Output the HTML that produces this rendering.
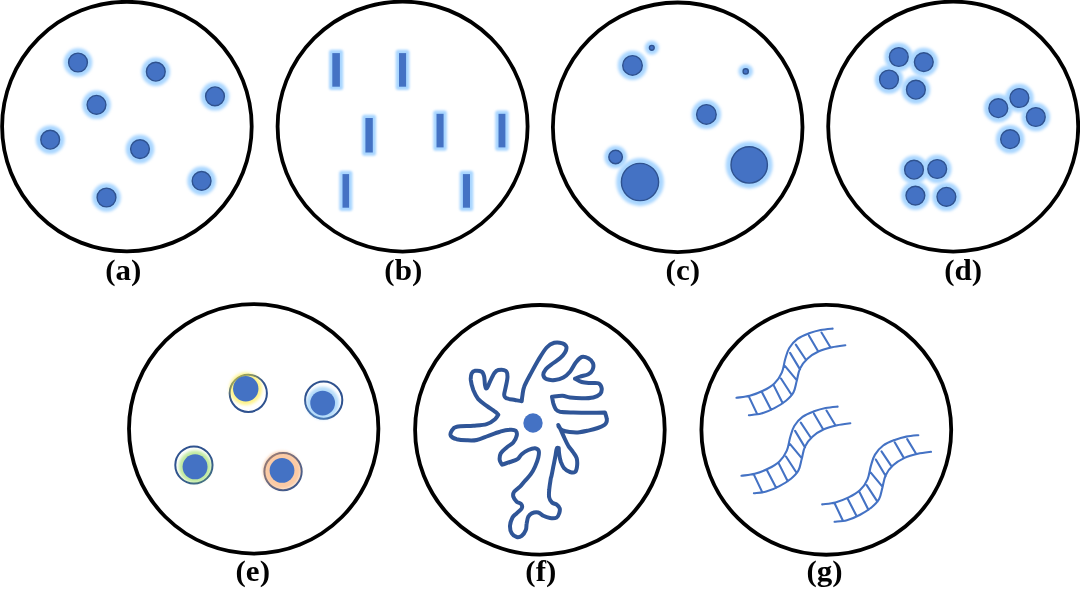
<!DOCTYPE html>
<html><head><meta charset="utf-8"><title>Figure</title>
<style>
html,body{margin:0;padding:0;background:#fff;}
body{width:1080px;height:607px;overflow:hidden;}
svg{display:block;}
text{opacity:0.99;font-family:"Liberation Serif",serif;font-weight:bold;font-size:30px;fill:#000;}
</style></head><body>
<svg width="1080" height="607" viewBox="0 0 1080 607">
<defs>
<filter id="gl" x="-50%" y="-50%" width="200%" height="200%"><feGaussianBlur stdDeviation="1.5"/></filter>
<filter id="gb" x="-100%" y="-50%" width="300%" height="200%"><feGaussianBlur stdDeviation="1.0"/></filter>
</defs>
<rect width="1080" height="607" fill="#fff"/>
<circle cx="126.9" cy="126.6" r="124.8" fill="#fff" stroke="#000" stroke-width="3.8"/>
<circle cx="402.6" cy="126.6" r="125" fill="#fff" stroke="#000" stroke-width="3.8"/>
<circle cx="677.7" cy="127.3" r="124.8" fill="#fff" stroke="#000" stroke-width="3.8"/>
<circle cx="953.2" cy="126.6" r="125" fill="#fff" stroke="#000" stroke-width="3.8"/>
<circle cx="253.7" cy="428.85" r="124.7" fill="#fff" stroke="#000" stroke-width="3.8"/>
<circle cx="539.9" cy="429.8" r="124.8" fill="#fff" stroke="#000" stroke-width="3.8"/>
<circle cx="826.3" cy="429.85" r="124.9" fill="#fff" stroke="#000" stroke-width="3.8"/>
<circle cx="78" cy="62.5" r="14.29" fill="#a9d6ff" filter="url(#gl)"/>
<circle cx="155.8" cy="71.7" r="14.29" fill="#a9d6ff" filter="url(#gl)"/>
<circle cx="215" cy="96.3" r="14.29" fill="#a9d6ff" filter="url(#gl)"/>
<circle cx="96.5" cy="104.8" r="14.29" fill="#a9d6ff" filter="url(#gl)"/>
<circle cx="50.2" cy="139.7" r="14.29" fill="#a9d6ff" filter="url(#gl)"/>
<circle cx="140" cy="149.1" r="14.29" fill="#a9d6ff" filter="url(#gl)"/>
<circle cx="201.6" cy="180.9" r="14.29" fill="#a9d6ff" filter="url(#gl)"/>
<circle cx="106.5" cy="197.5" r="14.29" fill="#a9d6ff" filter="url(#gl)"/>
<circle cx="632.5" cy="65.4" r="14.69" fill="#a9d6ff" filter="url(#gl)"/>
<circle cx="651.8" cy="47.8" r="7.06" fill="#a9d6ff" filter="url(#gl)"/>
<circle cx="745.7" cy="71.4" r="7.26" fill="#a9d6ff" filter="url(#gl)"/>
<circle cx="706.4" cy="114.4" r="14.69" fill="#a9d6ff" filter="url(#gl)"/>
<circle cx="615.6" cy="157" r="11.30" fill="#a9d6ff" filter="url(#gl)"/>
<circle cx="640" cy="182" r="23.88" fill="#a9d6ff" filter="url(#gl)"/>
<circle cx="749.2" cy="164.9" r="23.48" fill="#a9d6ff" filter="url(#gl)"/>
<circle cx="898.8" cy="57" r="14.29" fill="#a9d6ff" filter="url(#gl)"/>
<circle cx="923.8" cy="62.1" r="14.29" fill="#a9d6ff" filter="url(#gl)"/>
<circle cx="889" cy="79.5" r="14.29" fill="#a9d6ff" filter="url(#gl)"/>
<circle cx="915.9" cy="89.7" r="14.29" fill="#a9d6ff" filter="url(#gl)"/>
<circle cx="1019.4" cy="98" r="14.29" fill="#a9d6ff" filter="url(#gl)"/>
<circle cx="998.3" cy="108.2" r="14.29" fill="#a9d6ff" filter="url(#gl)"/>
<circle cx="1035.8" cy="117" r="14.29" fill="#a9d6ff" filter="url(#gl)"/>
<circle cx="1010.1" cy="139.2" r="14.29" fill="#a9d6ff" filter="url(#gl)"/>
<circle cx="914" cy="169.7" r="14.29" fill="#a9d6ff" filter="url(#gl)"/>
<circle cx="937.2" cy="169" r="14.29" fill="#a9d6ff" filter="url(#gl)"/>
<circle cx="915.4" cy="195.6" r="14.29" fill="#a9d6ff" filter="url(#gl)"/>
<circle cx="946.4" cy="196.8" r="14.29" fill="#a9d6ff" filter="url(#gl)"/>
<circle cx="78" cy="62.5" r="9.40" fill="#4472C4" stroke="#2F528F" stroke-width="1.4"/>
<circle cx="155.8" cy="71.7" r="9.40" fill="#4472C4" stroke="#2F528F" stroke-width="1.4"/>
<circle cx="215" cy="96.3" r="9.40" fill="#4472C4" stroke="#2F528F" stroke-width="1.4"/>
<circle cx="96.5" cy="104.8" r="9.40" fill="#4472C4" stroke="#2F528F" stroke-width="1.4"/>
<circle cx="50.2" cy="139.7" r="9.40" fill="#4472C4" stroke="#2F528F" stroke-width="1.4"/>
<circle cx="140" cy="149.1" r="9.40" fill="#4472C4" stroke="#2F528F" stroke-width="1.4"/>
<circle cx="201.6" cy="180.9" r="9.40" fill="#4472C4" stroke="#2F528F" stroke-width="1.4"/>
<circle cx="106.5" cy="197.5" r="9.40" fill="#4472C4" stroke="#2F528F" stroke-width="1.4"/>
<rect x="329.0" y="49.8" width="14.2" height="40.2" rx="2.5" fill="#a9d6ff" filter="url(#gb)"/><rect x="332.3" y="53.1" width="7.6" height="33.6" fill="#4472C4"/>
<rect x="395.7" y="49.8" width="13.7" height="40.2" rx="2.5" fill="#a9d6ff" filter="url(#gb)"/><rect x="399.0" y="53.1" width="7.1" height="33.6" fill="#4472C4"/>
<rect x="362.1" y="114.7" width="14.0" height="41.1" rx="2.5" fill="#a9d6ff" filter="url(#gb)"/><rect x="365.4" y="118.0" width="7.4" height="34.5" fill="#4472C4"/>
<rect x="433.2" y="110.5" width="13.7" height="40.2" rx="2.5" fill="#a9d6ff" filter="url(#gb)"/><rect x="436.5" y="113.8" width="7.1" height="33.6" fill="#4472C4"/>
<rect x="495.2" y="110.5" width="13.5" height="40.2" rx="2.5" fill="#a9d6ff" filter="url(#gb)"/><rect x="498.5" y="113.8" width="6.9" height="33.6" fill="#4472C4"/>
<rect x="339.2" y="170.8" width="13.2" height="40.2" rx="2.5" fill="#a9d6ff" filter="url(#gb)"/><rect x="342.5" y="174.1" width="6.6" height="33.6" fill="#4472C4"/>
<rect x="459.6" y="170.8" width="13.7" height="40.2" rx="2.5" fill="#a9d6ff" filter="url(#gb)"/><rect x="462.9" y="174.1" width="7.1" height="33.6" fill="#4472C4"/>
<circle cx="632.5" cy="65.4" r="9.80" fill="#4472C4" stroke="#2F528F" stroke-width="1.4"/>
<circle cx="651.8" cy="47.8" r="2.40" fill="#4472C4" stroke="#2F528F" stroke-width="1.4"/>
<circle cx="745.7" cy="71.4" r="2.60" fill="#4472C4" stroke="#2F528F" stroke-width="1.4"/>
<circle cx="706.4" cy="114.4" r="9.80" fill="#4472C4" stroke="#2F528F" stroke-width="1.4"/>
<circle cx="615.6" cy="157" r="6.80" fill="#4472C4" stroke="#2F528F" stroke-width="1.4"/>
<circle cx="640" cy="182" r="18.60" fill="#4472C4" stroke="#2F528F" stroke-width="1.4"/>
<circle cx="749.2" cy="164.9" r="18.20" fill="#4472C4" stroke="#2F528F" stroke-width="1.4"/>
<circle cx="898.8" cy="57" r="9.40" fill="#4472C4" stroke="#2F528F" stroke-width="1.4"/>
<circle cx="923.8" cy="62.1" r="9.40" fill="#4472C4" stroke="#2F528F" stroke-width="1.4"/>
<circle cx="889" cy="79.5" r="9.40" fill="#4472C4" stroke="#2F528F" stroke-width="1.4"/>
<circle cx="915.9" cy="89.7" r="9.40" fill="#4472C4" stroke="#2F528F" stroke-width="1.4"/>
<circle cx="1019.4" cy="98" r="9.40" fill="#4472C4" stroke="#2F528F" stroke-width="1.4"/>
<circle cx="998.3" cy="108.2" r="9.40" fill="#4472C4" stroke="#2F528F" stroke-width="1.4"/>
<circle cx="1035.8" cy="117" r="9.40" fill="#4472C4" stroke="#2F528F" stroke-width="1.4"/>
<circle cx="1010.1" cy="139.2" r="9.40" fill="#4472C4" stroke="#2F528F" stroke-width="1.4"/>
<circle cx="914" cy="169.7" r="9.40" fill="#4472C4" stroke="#2F528F" stroke-width="1.4"/>
<circle cx="937.2" cy="169" r="9.40" fill="#4472C4" stroke="#2F528F" stroke-width="1.4"/>
<circle cx="915.4" cy="195.6" r="9.40" fill="#4472C4" stroke="#2F528F" stroke-width="1.4"/>
<circle cx="946.4" cy="196.8" r="9.40" fill="#4472C4" stroke="#2F528F" stroke-width="1.4"/>
<circle cx="248.3" cy="393.3" r="18.6" fill="#fff" stroke="#2F528F" stroke-width="2"/>
<circle cx="245.75" cy="388.8" r="16.3" fill="rgb(255,235,46)" opacity="0.55" filter="url(#gl)"/>
<circle cx="245.75" cy="388.8" r="12.7" fill="#4472C4"/>
<circle cx="323.7" cy="400.1" r="18.6" fill="#fff" stroke="#2F528F" stroke-width="2"/>
<circle cx="322.65" cy="403.05" r="16.3" fill="rgb(120,190,246)" opacity="0.55" filter="url(#gl)"/>
<circle cx="322.65" cy="403.05" r="12.4" fill="#4472C4"/>
<circle cx="193.9" cy="465.0" r="18.6" fill="#fff" stroke="#2F528F" stroke-width="2"/>
<circle cx="195.05" cy="466.8" r="16.3" fill="rgb(140,217,82)" opacity="0.55" filter="url(#gl)"/>
<circle cx="195.05" cy="466.8" r="12.5" fill="#4472C4"/>
<circle cx="283.05" cy="471.6" r="18.6" fill="#fff" stroke="#2F528F" stroke-width="2"/>
<circle cx="282.0" cy="470.4" r="19.0" fill="rgb(248,160,91)" opacity="0.55" filter="url(#gl)"/>
<circle cx="282.0" cy="470.4" r="12.4" fill="#4472C4"/>
<path d="M558.3 425.0C558.8 425.8 559.9 427.9 560.8 430.0C561.8 432.1 562.9 434.9 564.2 437.5C565.4 440.1 566.8 443.3 568.3 445.8C569.9 448.3 571.9 450.4 573.3 452.5C574.7 454.6 576.1 456.0 576.7 458.3C577.3 460.7 577.3 464.4 577.0 466.7C576.7 468.9 576.2 471.1 575.0 472.0C573.8 472.9 571.8 472.6 570.0 472.0C568.2 471.4 565.7 470.1 564.2 468.3C562.6 466.6 561.7 464.0 560.8 461.7C560.0 459.3 559.5 456.4 559.2 454.2C558.8 451.9 558.8 449.2 558.7 448.0C558.3 448.1 557.2 447.2 556.7 448.7C556.1 450.1 555.9 453.7 555.3 456.7C554.8 459.7 554.0 463.3 553.3 466.7C552.7 470.0 551.8 474.7 551.3 476.7C550.9 478.6 551.2 476.1 550.8 478.3C550.5 480.6 549.4 486.8 549.2 490.0C548.9 493.2 548.7 495.4 549.2 497.5C549.6 499.6 550.8 501.3 552.0 502.5C553.2 503.7 555.4 503.7 556.7 504.7C557.9 505.6 559.2 506.9 559.7 508.3C560.1 509.8 559.7 511.8 559.2 513.3C558.7 514.9 558.2 516.7 556.7 517.5C555.1 518.3 552.2 518.3 550.0 518.0C547.8 517.7 545.3 516.8 543.3 515.8C541.4 514.9 540.3 512.9 538.3 512.5C536.4 512.1 533.3 512.6 531.7 513.3C530.0 514.0 529.2 515.0 528.3 516.7C527.5 518.3 527.1 521.1 526.7 523.3C526.2 525.6 526.7 527.9 525.8 530.0C525.0 532.1 523.2 534.7 521.7 535.8C520.1 537.0 518.3 537.4 516.7 537.0C515.0 536.6 512.8 535.2 511.7 533.3C510.6 531.5 509.9 528.5 510.0 525.8C510.1 523.2 511.4 519.6 512.5 517.5C513.6 515.4 515.1 514.9 516.7 513.3C518.2 511.8 520.9 509.9 521.7 508.3C522.4 506.8 522.2 505.3 521.3 504.2C520.5 503.1 518.0 502.9 516.7 501.7C515.3 500.4 513.8 498.3 513.3 496.7C512.9 495.0 513.1 493.3 514.2 491.7C515.3 490.0 518.2 488.5 520.0 486.7C521.8 484.9 523.2 482.9 525.0 480.8C526.8 478.8 529.2 476.5 530.8 474.2C532.5 471.8 533.8 469.4 535.0 466.7C536.2 463.9 537.7 460.1 538.3 457.5C538.9 454.9 539.2 452.4 538.7 450.8C538.1 449.3 536.7 448.5 535.0 448.3C533.3 448.2 530.6 449.0 528.3 450.0C526.1 451.0 523.5 452.6 521.7 454.2C519.9 455.7 519.4 457.9 517.5 459.2C515.6 460.5 512.6 461.1 510.0 462.0C507.4 462.9 503.6 464.1 502.0 464.7C501.5 463.7 499.9 461.9 499.7 460.0C499.5 458.1 499.7 455.4 500.8 453.3C502.0 451.2 504.6 449.3 506.7 447.5C508.8 445.7 511.7 444.4 513.3 442.5C515.0 440.6 516.2 437.8 516.7 435.8C517.1 433.9 516.9 431.9 515.8 430.8C514.7 429.8 512.6 429.5 510.0 429.7C507.4 429.8 503.6 430.6 500.0 431.7C496.4 432.7 492.2 434.4 488.3 435.8C484.4 437.2 480.3 439.2 476.7 440.0C473.1 440.8 470.0 440.5 466.7 440.3C463.3 440.2 459.3 439.9 456.7 439.2C454.0 438.4 451.7 437.2 450.8 435.8C450.0 434.4 450.7 432.4 451.7 430.8C452.6 429.3 453.1 427.5 456.7 426.7C460.3 425.8 468.3 426.2 473.3 425.8C478.3 425.4 483.1 425.3 486.7 424.2C490.3 423.1 493.1 420.8 495.0 419.2C496.9 417.6 497.7 415.6 498.3 414.7C497.7 414.1 496.9 413.1 495.0 411.7C493.1 410.2 489.4 407.9 486.7 405.8C483.9 403.8 480.6 401.8 478.3 399.2C476.1 396.5 474.6 393.2 473.3 390.0C472.1 386.8 471.1 382.8 470.8 380.0C470.6 377.2 471.0 374.9 471.7 373.3C472.4 371.8 473.3 371.1 475.0 370.8C476.7 370.6 480.1 370.7 481.7 371.7C483.2 372.6 483.6 374.4 484.2 376.7C484.7 378.9 484.6 383.1 485.0 385.0C485.4 386.9 485.8 388.9 486.7 388.3C487.5 387.8 488.8 384.2 490.0 381.7C491.2 379.2 492.8 375.3 494.2 373.3C495.6 371.4 496.4 370.4 498.3 370.0C500.3 369.6 504.3 369.7 505.8 370.8C507.4 371.9 507.5 374.0 507.5 376.7C507.5 379.3 506.4 383.6 505.8 386.7C505.3 389.7 504.0 393.1 504.2 395.0C504.3 396.9 504.9 397.5 506.7 398.3C508.5 399.2 512.5 399.5 515.0 400.0C517.5 400.5 520.3 401.1 521.7 401.3C521.8 400.1 522.1 397.4 522.5 395.0C522.9 392.6 522.9 390.0 524.2 386.7C525.4 383.3 527.6 379.4 530.0 375.0C532.4 370.6 535.6 364.6 538.3 360.0C541.1 355.4 544.0 350.4 546.7 347.5C549.3 344.6 551.5 343.5 554.2 342.8C556.8 342.1 560.5 342.7 562.5 343.3C564.5 344.0 565.9 345.1 566.3 346.7C566.8 348.2 566.1 350.6 565.0 352.5C563.9 354.4 562.2 356.4 560.0 358.3C557.8 360.3 554.0 362.4 551.7 364.2C549.3 366.0 547.2 367.4 545.8 369.2C544.4 371.0 543.2 373.3 543.3 375.0C543.5 376.7 544.7 378.3 546.7 379.2C548.6 380.0 552.2 380.3 555.0 380.0C557.8 379.7 560.8 378.9 563.3 377.5C565.8 376.1 567.9 374.2 570.0 371.7C572.1 369.2 573.9 364.9 575.8 362.5C577.8 360.1 579.6 357.7 581.7 357.0C583.8 356.3 586.4 357.3 588.3 358.3C590.2 359.4 592.3 361.4 593.0 363.3C593.7 365.3 593.3 368.2 592.5 370.0C591.7 371.8 590.4 373.1 588.3 374.2C586.2 375.3 582.2 375.9 580.0 376.7C577.8 377.4 576.0 378.3 575.0 378.7C576.3 379.3 579.2 381.3 581.7 382.0C584.2 382.7 587.2 382.8 590.0 383.0C592.8 383.2 596.4 382.4 598.3 383.3C600.3 384.2 601.4 386.5 601.7 388.3C601.9 390.1 601.4 392.6 600.0 394.2C598.6 395.7 596.4 396.8 593.3 397.5C590.3 398.2 585.6 398.3 581.7 398.3C577.8 398.3 573.2 397.9 570.0 397.5C566.8 397.1 565.5 396.0 562.5 395.8C559.5 395.7 554.1 396.5 552.0 396.7C552.3 398.0 552.7 401.2 553.3 403.3C554.0 405.4 554.7 407.8 555.8 409.2C556.9 410.6 557.1 411.1 560.0 411.7C562.9 412.2 568.3 412.3 573.3 412.5C578.3 412.7 584.7 412.8 590.0 412.8C595.3 412.8 602.0 412.6 605.0 412.5C605.3 413.7 606.5 416.8 606.7 418.4C607.0 420.0 606.9 420.9 606.5 422.0C606.1 423.1 606.0 423.8 604.5 424.8C603.0 425.8 600.5 427.0 597.8 428.0C595.1 429.0 591.5 429.9 588.2 430.6C584.9 431.3 580.9 432.2 577.8 432.4C574.7 432.6 572.2 432.3 569.7 432.0C567.2 431.7 564.4 431.3 562.5 430.4C560.6 429.5 559.2 427.1 558.6 426.4" fill="none" stroke="#2F5597" stroke-width="4" stroke-linecap="round" stroke-linejoin="round"/>
<circle cx="533" cy="423" r="9.7" fill="#4472C4"/>
<path d="M736.5 397.8C738.7 397.4 745.3 396.9 749.7 395.8C754.1 394.6 758.8 392.9 762.9 390.8C767.0 388.8 771.3 386.4 774.4 383.4C777.6 380.4 780.1 376.7 781.8 372.7C783.6 368.7 783.9 363.7 785.1 359.5C786.4 355.4 787.2 351.4 789.3 348.0C791.3 344.6 794.2 341.4 797.5 338.9C800.8 336.5 805.2 334.8 809.0 333.3C812.9 331.9 816.6 330.8 820.6 330.0C824.5 329.3 830.6 328.8 832.6 328.6M748.9 415.2C750.9 414.9 757.0 414.8 761.2 413.6C765.5 412.4 770.3 410.3 774.4 408.1C778.5 406.0 782.8 403.3 786.0 400.7C789.1 398.1 791.6 395.8 793.4 392.5C795.2 389.2 795.6 384.9 796.7 381.0C797.8 377.0 798.2 372.3 800.0 368.6C801.7 364.9 804.2 361.6 807.4 358.7C810.5 355.8 814.8 353.2 818.9 351.3C823.0 349.4 827.7 348.2 832.1 347.2C836.5 346.2 843.1 345.5 845.3 345.2M748.9 396.6L757.1 413.9M762.1 392.5L771.1 409.8M773.6 385.1L782.7 403.2M781.0 378.5L791.7 395.0M785.1 366.1L796.7 380.1M790.1 352.9L800.0 369.4M795.8 344.7L805.7 359.5M809.0 335.7L818.1 351.3M821.5 332.5L830.4 347.2" fill="none" stroke="#4472C4" stroke-width="2.1" stroke-linecap="round" stroke-linejoin="round"/>
<path d="M741.5 475.8C743.7 475.4 750.3 474.9 754.7 473.8C759.1 472.6 763.8 470.9 767.9 468.8C772.0 466.8 776.3 464.4 779.4 461.4C782.6 458.4 785.1 454.7 786.8 450.7C788.6 446.7 788.9 441.7 790.1 437.5C791.4 433.4 792.2 429.4 794.3 426.0C796.3 422.6 799.2 419.4 802.5 416.9C805.8 414.5 810.2 412.8 814.0 411.3C817.9 409.9 821.6 408.8 825.6 408.0C829.5 407.3 835.6 406.8 837.6 406.6M753.9 493.2C755.9 492.9 762.0 492.8 766.2 491.6C770.5 490.4 775.3 488.3 779.4 486.1C783.5 484.0 787.8 481.3 791.0 478.7C794.1 476.1 796.6 473.8 798.4 470.5C800.2 467.2 800.6 462.9 801.7 459.0C802.8 455.0 803.2 450.3 805.0 446.6C806.7 442.9 809.2 439.6 812.4 436.7C815.5 433.8 819.8 431.2 823.9 429.3C828.0 427.4 832.7 426.2 837.1 425.2C841.5 424.2 848.1 423.5 850.3 423.2M753.9 474.6L762.1 491.9M767.1 470.5L776.1 487.8M778.6 463.1L787.7 481.2M786.0 456.5L796.7 473.0M790.1 444.1L801.7 458.1M795.1 430.9L805.0 447.4M800.8 422.7L810.7 437.5M814.0 413.7L823.1 429.3M826.5 410.5L835.4 425.2" fill="none" stroke="#4472C4" stroke-width="2.1" stroke-linecap="round" stroke-linejoin="round"/>
<path d="M822.2 504.4C824.4 504.0 831.0 503.5 835.4 502.4C839.8 501.2 844.5 499.5 848.6 497.4C852.7 495.4 857.0 493.0 860.1 490.0C863.3 487.0 865.8 483.3 867.5 479.3C869.3 475.3 869.6 470.3 870.8 466.1C872.1 462.0 872.9 458.0 875.0 454.6C877.0 451.2 879.9 448.0 883.2 445.5C886.5 443.1 890.9 441.4 894.7 439.9C898.6 438.5 902.3 437.4 906.3 436.6C910.2 435.9 916.3 435.4 918.3 435.2M834.6 521.8C836.6 521.5 842.7 521.4 846.9 520.2C851.2 519.0 856.0 516.9 860.1 514.7C864.2 512.6 868.5 509.9 871.7 507.3C874.8 504.7 877.3 502.4 879.1 499.1C880.9 495.8 881.3 491.5 882.4 487.6C883.5 483.6 883.9 478.9 885.7 475.2C887.4 471.5 889.9 468.2 893.1 465.3C896.2 462.4 900.5 459.8 904.6 457.9C908.7 456.0 913.4 454.8 917.8 453.8C922.2 452.8 928.8 452.1 931.0 451.8M834.6 503.2L842.8 520.5M847.8 499.1L856.8 516.4M859.3 491.7L868.4 509.8M866.7 485.1L877.4 501.6M870.8 472.7L882.4 486.7M875.8 459.5L885.7 476.0M881.5 451.3L891.4 466.1M894.7 442.3L903.8 457.9M907.2 439.1L916.1 453.8" fill="none" stroke="#4472C4" stroke-width="2.1" stroke-linecap="round" stroke-linejoin="round"/>
<text transform="translate(123.25 280.1) scale(1.035 1)" x="0" y="0" text-anchor="middle">(a)</text>
<text transform="translate(403.25 280.1) scale(1.035 1)" x="0" y="0" text-anchor="middle">(b)</text>
<text transform="translate(682.85 280.1) scale(1.035 1)" x="0" y="0" text-anchor="middle">(c)</text>
<text transform="translate(963.15 280.1) scale(1.035 1)" x="0" y="0" text-anchor="middle">(d)</text>
<text transform="translate(252.75 581.2) scale(1.035 1)" x="0" y="0" text-anchor="middle">(e)</text>
<text transform="translate(540.8 581.2) scale(1.035 1)" x="0" y="0" text-anchor="middle">(f)</text>
<text transform="translate(824.6 581.2) scale(1.035 1)" x="0" y="0" text-anchor="middle">(g)</text>
</svg>
</body></html>
